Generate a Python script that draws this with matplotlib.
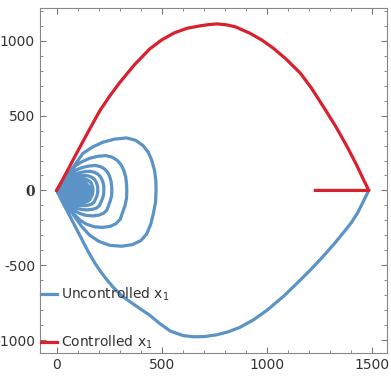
import matplotlib.pyplot as plt
from matplotlib.ticker import MultipleLocator

plt.rcParams['axes.unicode_minus'] = False

# uncontrolled x1: big outer arc, then loops that shrink onto the left point
arc_x = [1483, 1460, 1430, 1400, 1371, 1320, 1260, 1210, 1157, 1080, 1000, 935, 871, 815, 760,
         700, 650, 600, 540, 490, 443, 380, 314, 270, 240, 210, 181, 150, 117, 90, 60, 30, 0]
arc_y = [0, -65, -150, -215, -267, -355, -450, -525, -600, -705, -800, -865, -915, -945, -965,
         -977, -978, -970, -940, -890, -835, -775, -710, -650, -600, -545, -485, -410, -320, -245,
         -165, -85, 0]

loops_x = [
    [0, 30, 60, 92, 124, 170, 219, 275, 332, 375, 410, 435, 452, 465, 471, 472,
     470, 460, 447, 428, 400, 360, 308, 252, 200, 157, 118, 80, 40, 0],
    [0, 42, 88, 120, 155, 194, 234, 264, 289, 307, 319, 328, 332, 333,
     332, 325, 302, 282, 254, 217, 178, 141, 111, 83, 56, 0],
    [0, 33, 69, 94, 122, 153, 184, 208, 228, 242, 251, 258, 261, 262,
     261, 255, 238, 222, 200, 171, 140, 111, 87, 66, 44, 0],
    [0, 28, 59, 81, 104, 131, 157, 178, 195, 207, 215, 221, 224, 224,
     223, 218, 203, 190, 171, 146, 120, 95, 75, 56, 38, 0],
    [0, 25, 51, 70, 90, 114, 137, 155, 169, 180, 187, 192, 195, 195,
     194, 190, 177, 165, 149, 127, 104, 83, 65, 49, 33, 0],
    [0, 22, 45, 62, 80, 100, 121, 137, 149, 159, 165, 169, 172, 172,
     171, 168, 156, 146, 131, 112, 92, 73, 57, 43, 29, 0],
    [0, 20, 42, 75, 113, 140, 154, 160, 145, 104, 53, 27, 0],
    [0, 19, 40, 71, 107, 133, 146, 152, 138, 99, 51, 26, 0],
    [0, 19, 39, 69, 104, 128, 141, 147, 133, 96, 49, 25, 0],
    [0, 18, 38, 67, 101, 125, 138, 143, 130, 93, 48, 24, 0],
    [0, 18, 37, 65, 99, 122, 135, 140, 127, 91, 47, 24, 0],
    [0, 18, 36, 64, 97, 120, 133, 138, 125, 90, 46, 23, 0],
    [0, 17, 36, 63, 96, 119, 131, 136, 123, 89, 45, 23, 0],
    [0, 17, 36, 63, 95, 118, 130, 135, 122, 88, 45, 23, 0],
]
loops_y = [
    [0, 60, 120, 185, 247, 290, 322, 343, 351, 335, 300, 255, 200, 133, 65, 0,
     -75, -150, -225, -290, -335, -362, -373, -367, -340, -300, -240, -165, -85, 0],
    [0, 80, 164, 192, 214, 228, 233, 222, 199, 169, 133, 88, 43, 0,
     -50, -99, -192, -222, -240, -247, -243, -225, -199, -159, -109, 0],
    [0, 57, 118, 138, 153, 163, 167, 159, 143, 121, 95, 63, 31, 0,
     -34, -68, -132, -153, -165, -170, -167, -155, -137, -109, -75, 0],
    [0, 44, 90, 106, 117, 125, 128, 122, 109, 93, 73, 49, 24, 0,
     -26, -52, -101, -117, -126, -130, -128, -119, -105, -84, -57, 0],
    [0, 34, 70, 83, 92, 98, 100, 95, 86, 73, 57, 38, 19, 0,
     -21, -41, -79, -92, -99, -102, -100, -93, -82, -66, -45, 0],
    [0, 27, 56, 66, 73, 78, 80, 76, 68, 58, 46, 30, 15, 0,
     -16, -33, -64, -74, -80, -82, -81, -75, -66, -53, -36, 0],
    [0, 22, 46, 60, 66, 50, 25, 0, -54, -68, -54, -29, 0],
    [0, 19, 39, 50, 55, 42, 21, 0, -46, -57, -46, -25, 0],
    [0, 16, 32, 42, 46, 35, 17, 0, -38, -48, -38, -21, 0],
    [0, 13, 27, 35, 38, 29, 14, 0, -32, -40, -32, -17, 0],
    [0, 10, 21, 27, 30, 23, 11, 0, -26, -32, -26, -14, 0],
    [0, 7, 15, 20, 22, 17, 8, 0, -19, -24, -19, -10, 0],
    [0, 5, 10, 13, 14, 11, 5, 0, -12, -15, -12, -6, 0],
    [0, 2, 5, 6, 7, 5, 3, 0, -6, -8, -6, -3, 0],
]

# controlled x1
ctrl_x = [0, 50, 95, 150, 205, 250, 300, 370, 443, 500, 560, 620, 681, 720, 762, 810, 850, 919,
          975, 1030, 1090, 1157, 1210, 1267, 1325, 1381, 1425, 1457, 1483, 1229]
ctrl_y = [0, 130, 250, 393, 533, 627, 722, 841, 947, 1007, 1054, 1084, 1100, 1108, 1113, 1106,
          1093, 1050, 1005, 950, 878, 785, 685, 560, 430, 290, 170, 75, 0, 0]

blue = '#5b93c7'
red = '#d8202f'

unc_x = list(arc_x)
unc_y = list(arc_y)
for lx, ly in zip(loops_x, loops_y):
    unc_x += lx[1:]
    unc_y += ly[1:]

fig = plt.figure(figsize=(3.91, 3.76), dpi=100)
ax = fig.add_axes([0.102, 0.061, 0.888, 0.918])

ax.plot(unc_x, unc_y, color=blue, lw=2.3, solid_joinstyle='round',
        label=r'Uncontrolled $\mathregular{x_1}$')
ax.plot(ctrl_x, ctrl_y, color=red, lw=2.3, solid_joinstyle='round',
        label=r'Controlled $\mathregular{x_1}$')

ax.set_xlim(-80, 1570)
ax.set_ylim(-1087, 1220)
ax.xaxis.set_major_locator(MultipleLocator(500))
ax.xaxis.set_minor_locator(MultipleLocator(100))
ax.yaxis.set_major_locator(MultipleLocator(500))
ax.yaxis.set_minor_locator(MultipleLocator(100))
ax.tick_params(which='both', direction='in', top=True, right=True, color='#777777',
               labelsize=10, labelcolor='#333333')
ax.tick_params(which='major', length=4)
ax.tick_params(which='minor', length=2)
for s in ax.spines.values():
    s.set_color('#888888')

# the zero on the y axis is drawn in a bold serif face in the original
fig.canvas.draw()
for lab in ax.get_yticklabels():
    if lab.get_text() == '0':
        lab.set_fontfamily('DejaVu Serif')
        lab.set_fontweight('bold')

ax.legend(loc='lower left', frameon=False, fontsize=10, handlelength=1.1,
          borderaxespad=0.0, bbox_to_anchor=(-0.012, -0.01), labelspacing=2.2,
          handletextpad=0.35, labelcolor='#333333')

fig.savefig('out.png', dpi=100)
